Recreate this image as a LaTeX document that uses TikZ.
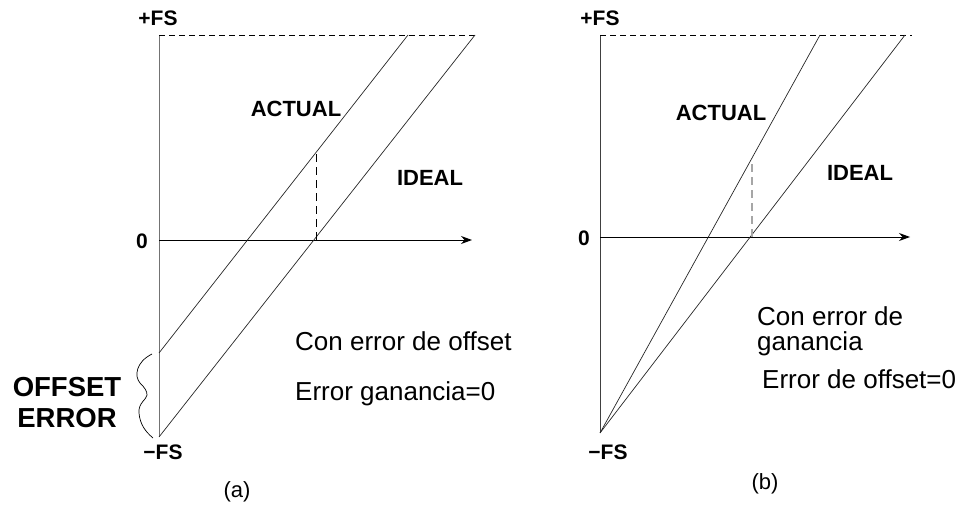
\documentclass[tikz,border=0pt]{standalone}
\usepackage{fontspec}
\setmainfont{Liberation Sans}
\usetikzlibrary{arrows.meta}
\tikzset{
  axisline/.style={line width=0.9pt, black!75},
  plotline/.style={line width=0.7pt, black!85},
  fsdash/.style={line width=0.8pt, dash pattern=on 6pt off 4pt},
  vdash/.style={line width=0.9pt, dash pattern=on 8pt off 5pt},
  arrowaxis/.style={line width=0.9pt, -{Stealth[length=11pt,width=8pt]}},
  lbl/.style={inner sep=0pt, font=\bfseries\fontsize{22}{24}\selectfont},
  fslabel/.style={inner sep=0pt, font=\bfseries\fontsize{21}{24}\selectfont},
  note/.style={inner sep=0pt, anchor=west, font=\fontsize{26}{28}\selectfont},
  caption/.style={inner sep=0pt, font=\fontsize{22}{26}\selectfont}
}
\begin{document}
\begin{tikzpicture}[x=1pt,y=-1pt]
\useasboundingbox (0,0) rectangle (956,505);
% ---------- panel (a)
\coordinate (aTop) at (159,35);
\coordinate (aBot) at (159,437);
\coordinate (aO) at (159,240);
\coordinate (aX) at (472,240);
\coordinate (aDashEnd) at (475,35);
\coordinate (aActS) at (159,353);
\coordinate (aActE) at (408,35);
\coordinate (aIdZ) at (316,240);
\coordinate (aActP) at (316,154);
\draw[axisline, black!55] (aTop) -- (aBot);
\draw[fsdash] (aTop) -- (aDashEnd);
\draw[arrowaxis] (aO) -- (aX);
\draw[plotline] (aBot) -- (aDashEnd);
\draw[plotline] (aActS) -- (aActE);
\draw[vdash] (aIdZ) -- (aActP);
\draw[line width=0.7pt] (152,354) .. controls (136,362) and (134,376) .. (140,383)
  .. controls (145,388) and (147,391) .. (147,395)
  .. controls (147,399) and (138,403) .. (139,413)
  .. controls (140,425) and (146,432) .. (153,438);
\node[fslabel] (aPFS) at (158,18) {+FS};
\node[fslabel] (aMFS) at (163,452) {−FS};
\node[fslabel] (aZero) at (142,241) {0};
\node[lbl] (aAct) at (296,109) {ACTUAL};
\node[lbl] (aId) at (430,178) {IDEAL};
\node[inner sep=0pt, align=center, font=\bfseries\fontsize{27.5}{31}\selectfont] (aOff) at (67,403) {OFFSET\\ERROR};
\node[note] (aN1) at (295,341) {Con error de offset};
\node[note] (aN2) at (295,394) {Error ganancia=0};
\node[caption] (aCap) at (237,492) {(a)};
% ---------- panel (b)
\coordinate (bTop) at (600,35);
\coordinate (bBot) at (600,433);
\coordinate (bO) at (600,237);
\coordinate (bX) at (910,237);
\coordinate (bDashEnd) at (912,35);
\coordinate (bIdE) at (905,35);
\coordinate (bActE) at (820,35);
\coordinate (bIdZ) at (752,237);
\coordinate (bActP) at (752,163);
\draw[axisline] (bTop) -- (bBot);
\draw[fsdash] (bTop) -- (bDashEnd);
\draw[arrowaxis] (bO) -- (bX);
\draw[plotline] (bBot) -- (bIdE);
\draw[plotline] (bBot) -- (bActE);
\draw[vdash, black!35, line width=1.2pt] (bIdZ) -- (bActP);
\node[fslabel] (bPFS) at (600,18) {+FS};
\node[fslabel] (bMFS) at (608,452) {−FS};
\node[fslabel] (bZero) at (584,238) {0};
\node[lbl] (bAct) at (721,113) {ACTUAL};
\node[lbl] (bId) at (860,173) {IDEAL};
\node[note] (bN1) at (757,316) {Con error de};
\node[note] (bN2) at (757,344) {ganancia};
\node[note] (bN3) at (762,379) {Error de offset=0};
\node[caption] (bCap) at (765,484) {(b)};
\end{tikzpicture}
\end{document}
